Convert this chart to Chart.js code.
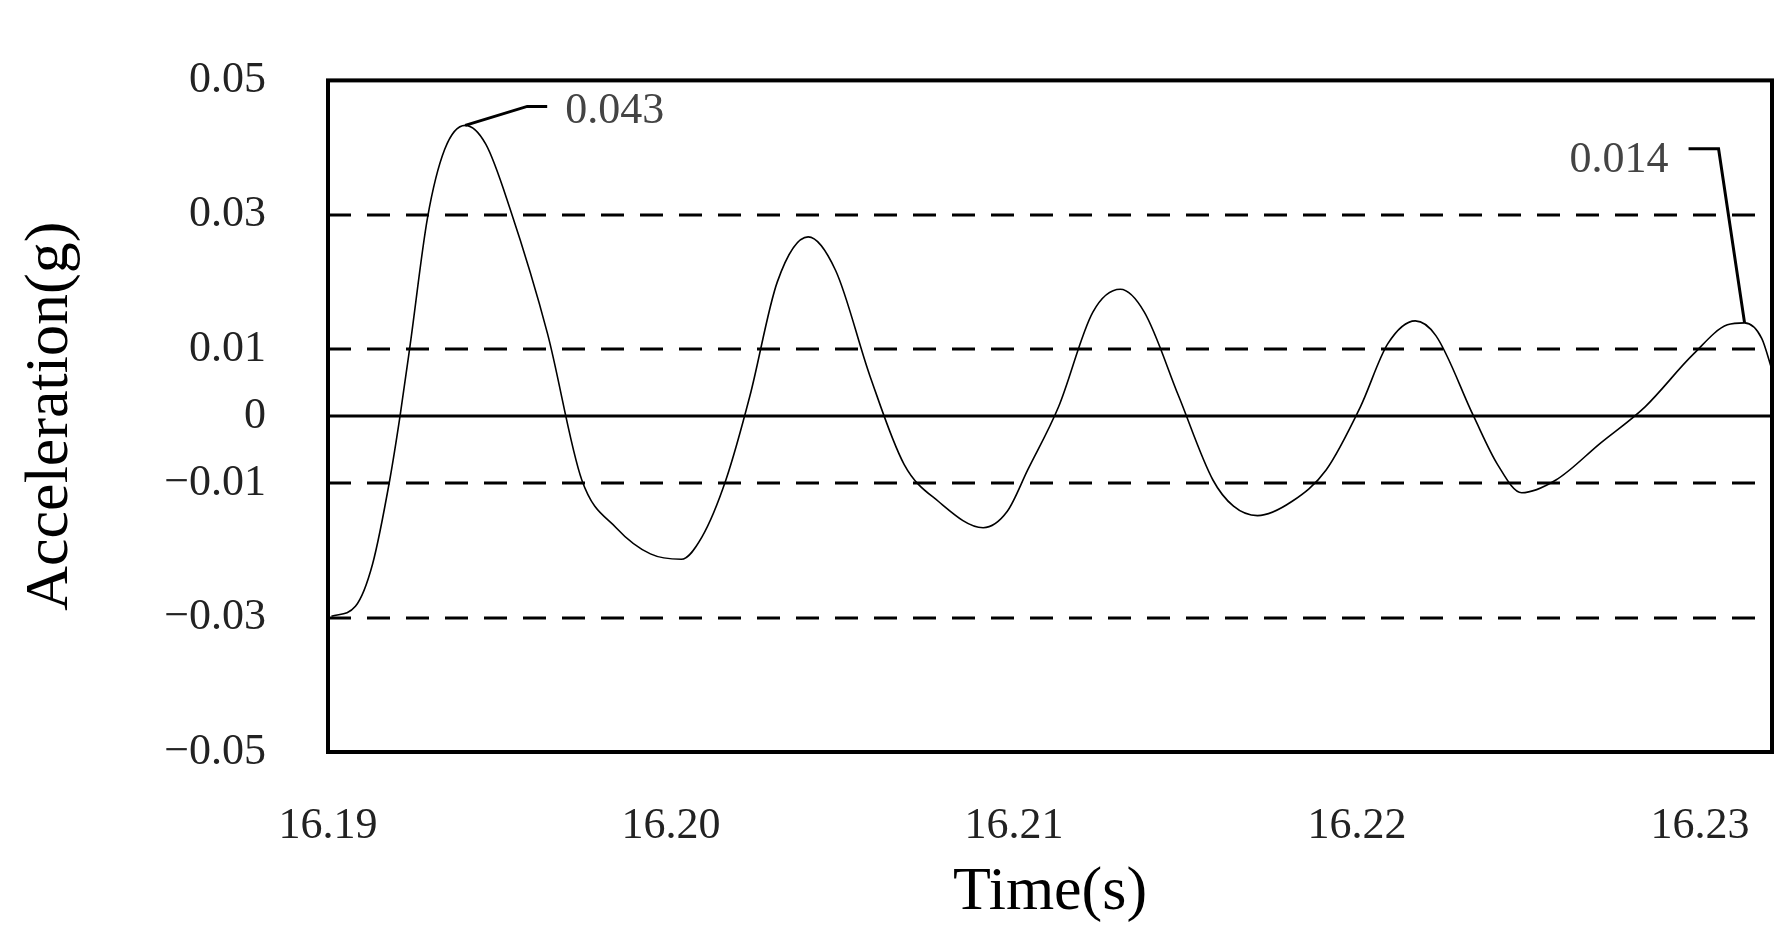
<!DOCTYPE html>
<html><head><meta charset="utf-8">
<script src="https://cdn.jsdelivr.net/npm/chart.js@4"></script>
<style>html,body{margin:0;padding:0;background:#fff}#wrap{width:1792px;height:938px}</style>
</head><body><div id="wrap"><canvas id="c"></canvas></div>
<script>
const timeValues = [16.1901,16.1908,16.1913,16.1918,16.1921,16.1924,16.1929,16.1934,16.1940,16.1946,16.1953,16.1964,16.1974,16.1984,16.1994,16.2003,16.2009,16.2016,16.2023,16.2031,16.2040,16.2048,16.2058,16.2068,16.2078,16.2091,16.2098,16.2104,16.2113,16.2123,16.2131,16.2138,16.2148,16.2158,16.2164,16.2171,16.2181,16.2191,16.2201,16.2209,16.2217,16.2223,16.2234,16.2241,16.2248,16.2258,16.2271,16.2284,16.2298,16.2308,16.2313,16.2318,16.2321];
const accelValues = [-0.0298,-0.0283,-0.022,-0.0095,0,0.0108,0.0295,0.0397,0.0433,0.0405,0.031,0.0123,-0.0095,-0.0166,-0.0205,-0.0213,-0.018,-0.0095,0.003,0.020,0.0267,0.0217,0.006,-0.0072,-0.0127,-0.0166,-0.0142,-0.008,0.0014,0.0155,0.0189,0.0155,0.003,-0.0095,-0.0134,-0.0148,-0.0127,-0.008,0.0014,0.0108,0.0142,0.012,0,-0.0072,-0.0114,-0.0095,-0.004,0.0014,0.0092,0.0136,0.0139,0.0116,0.0069];
const yTicks = [-0.05,-0.03,-0.01,0,0.01,0.03,0.05];
const xTicks = [16.19,16.20,16.21,16.22,16.23];
const annotations = [{t:16.1940,v:0.0433,label:'0.043'},{t:16.2313,v:0.0139,label:'0.014'}];

const fmtY = v => v===0?'0':(v<0?'\u2212':'')+Math.abs(v).toFixed(2);
const FONT='"Liberation Serif", "Times New Roman", serif';

const deco = {
  id:'deco',
  beforeDatasetsDraw(ch){
    const c=ch.ctx, a=ch.chartArea, y=ch.scales.y;
    c.save(); c.strokeStyle='#000'; c.lineWidth=3;
    yTicks.forEach(v=>{
      if(Math.abs(v)===0.05) return;
      const py=Math.round(y.getPixelForValue(v));
      c.setLineDash(v===0?[]:[23,16]);
      c.beginPath(); c.moveTo(a.left,py); c.lineTo(a.right,py); c.stroke();
    });
    c.restore();
  },
  afterDatasetsDraw(ch){
    const c=ch.ctx, a=ch.chartArea, x=ch.scales.x, y=ch.scales.y;
    c.save();
    c.strokeStyle='#000'; c.lineWidth=4; c.setLineDash([]);
    c.strokeRect(a.left,a.top,a.right-a.left,a.bottom-a.top);
    c.lineWidth=3;
    let p=annotations[0], px=x.getPixelForValue(p.t), py=y.getPixelForValue(p.v);
    c.beginPath(); c.moveTo(px,py); c.lineTo(px+62,py-19); c.lineTo(px+82,py-19); c.stroke();
    c.fillStyle='#444'; c.font='44px '+FONT; c.textBaseline='middle'; c.textAlign='left';
    c.fillText(p.label,px+100,py-14);
    p=annotations[1]; px=x.getPixelForValue(p.t); py=y.getPixelForValue(p.v);
    c.beginPath(); c.moveTo(px,py); c.lineTo(px-26,py-174); c.lineTo(px-56,py-174); c.stroke();
    c.textAlign='right'; c.fillText(p.label,px-76,py-162);
    c.restore();
  }
};

new Chart(document.getElementById('c'),{
  type:'line',
  data:{datasets:[{data:timeValues.map((t,i)=>({x:t,y:accelValues[i]})),borderColor:'#000',borderWidth:1.6,pointRadius:0,cubicInterpolationMode:'monotone',fill:false}]},
  options:{
    responsive:true,maintainAspectRatio:false,animation:false,
    layout:{padding:{top:-33,right:20,left:0,bottom:0}},
    plugins:{legend:{display:false},tooltip:{enabled:false}},
    scales:{
      x:{type:'linear',min:16.19,max:16.2321,
        afterBuildTicks(s){s.ticks=xTicks.map(v=>({value:v}));},
        afterFit(s){s.height=186;},
        grid:{display:false},border:{display:false},
        ticks:{padding:40,color:'#222',font:{family:FONT,size:44},callback:v=>Number(v).toFixed(2),maxRotation:0,autoSkip:false},
        title:{display:true,text:'Time(s)',color:'#000',font:{family:FONT,size:62},padding:{top:0,bottom:8}}
      },
      y:{min:-0.05,max:0.05,
        afterBuildTicks(s){s.ticks=yTicks.map(v=>({value:v}));},
        afterFit(s){s.width=328;},
        grid:{display:false},border:{display:false},
        ticks:{padding:54,color:'#222',font:{family:FONT,size:44},callback:v=>fmtY(Math.round(v*100)/100),autoSkip:false},
        title:{display:true,text:'Acceleration(g)',color:'#000',font:{family:FONT,size:62},padding:{top:14,bottom:0}}
      }
    }
  },
  plugins:[deco]
});
</script></body></html>
